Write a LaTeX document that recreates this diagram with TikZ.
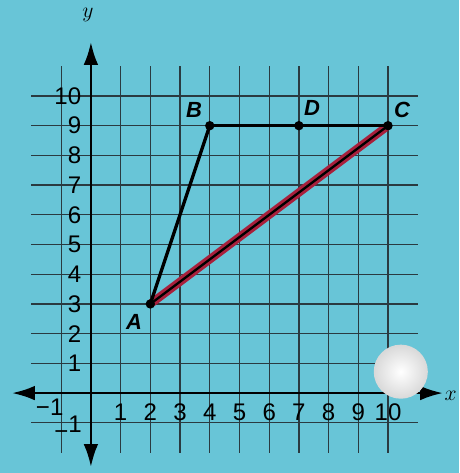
\documentclass[tikz,border=0pt]{standalone}
\usepackage{fontspec}
\newfontfamily\labelfont{Liberation Sans}
\definecolor{paper}{HTML}{68C5D7}
\definecolor{marker}{HTML}{A8203C}
\definecolor{gridline}{HTML}{2A3A40}
\usetikzlibrary{arrows.meta}

\begin{document}
\begin{tikzpicture}[
    tick/.style={font=\labelfont\fontsize{23}{23}\selectfont,inner sep=0pt},
    vname/.style={font=\labelfont\bfseries\itshape\fontsize{21}{21}\selectfont,inner sep=0pt},
    vertex/.style={circle,fill=black,inner sep=0pt,minimum size=9pt},
    axis/.style={line width=2.6pt,{Latex[length=22pt,width=14pt]}-{Latex[length=22pt,width=14pt]}},
    gridrule/.style={gridline,line width=1.3pt}
  ]
  \fill[paper] (-3.06,-2.69) rectangle (12.39,13.23);
  \useasboundingbox (-3.06,-2.69) rectangle (12.39,13.23);
  \foreach \i in {-1,1,2,...,10} {
    \draw[gridrule] (\i,-2) -- (\i,11);
    \draw[gridrule] (-2,\i) -- (11,\i);
  }
  \draw[axis] (-2.66,0) -- (11.85,0);
  \draw[axis] (0,-2.49) -- (0,11.82);
  \node[font=\fontsize{22}{22}\selectfont] (ylabel) at (-0.1,12.73) {$y$};
  \node[font=\fontsize{22}{22}\selectfont,anchor=west,inner sep=0pt] (xlabel) at (11.9,-0.1) {$x$};
  \foreach \i in {1,...,10} {
    \node[tick] (xt\i) at (\i,-0.64) {\i};
    \node[tick,anchor=east] (yt\i) at (-0.32,\i) {\i};
  }
  \node[tick,anchor=east] (xtm) at (-0.92,-0.48) {−1};
  \node[tick,anchor=east] (ytm) at (-0.3,-1.17) {\raisebox{-7pt}{−}1};
  \shade[inner color=white,outer color=black!15] (10.43,0.72) circle (0.91);
  \coordinate (A) at (2,3);
  \coordinate (B) at (4,9);
  \coordinate (C) at (10,9);
  \coordinate (D) at (7,9);
  \draw[marker,line width=8pt] (A) -- (C);
  \draw[line width=2.2pt] (A) -- (C);
  \draw[line width=3.2pt] (A) -- (B);
  \draw[line width=2.6pt] (B) -- (D) -- (C);
  \foreach \p in {A,B,C,D} {
    \node[vertex] (dot\p) at (\p) {};
  }
  \node[vname] (nameA) at (1.45,2.39) {A};
  \node[vname] (nameB) at (3.47,9.53) {B};
  \node[vname] (nameC) at (10.47,9.53) {C};
  \node[vname] (nameD) at (7.44,9.6) {D};
\end{tikzpicture}
\end{document}
